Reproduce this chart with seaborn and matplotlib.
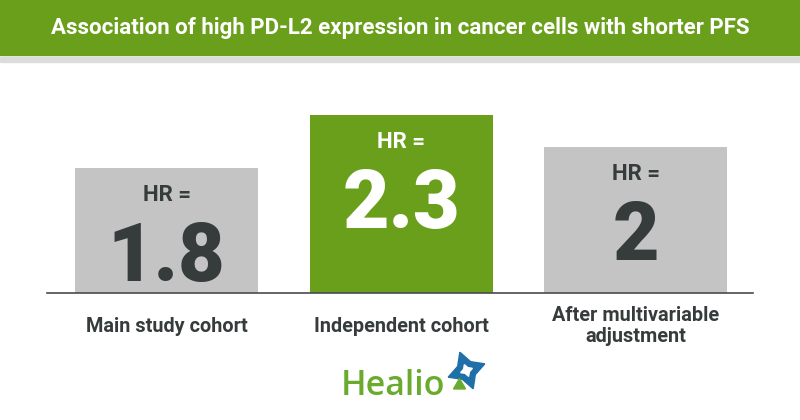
import matplotlib
matplotlib.use("Agg")
import matplotlib.pyplot as plt
import seaborn as sns
import pandas as pd
from matplotlib.patches import Rectangle
from matplotlib.lines import Line2D

# ---- data ----
categories = ["Main study cohort", "Independent cohort", "After multivariable\nadjustment"]
hr_values = [1.8, 2.3, 2.0]
value_labels = ["1.8", "2.3", "2"]
title = "Association of high PD-L2 expression in cancer cells with shorter PFS"

GREEN = "#6a9f1c"
GRAY = "#c4c4c4"
DARK = "#363b3b"
bar_colors = [GRAY, GREEN, GRAY]
text_colors = [DARK, "white", DARK]

sns.set_theme(style="white")
plt.rcParams["font.family"] = ["Roboto", "DejaVu Sans"]

fig = plt.figure(figsize=(8, 4.2), dpi=100)
W, H = 800, 420

# title band
fig.patches.append(Rectangle((0, 1 - 55 / H), 1, 55 / H, transform=fig.transFigure,
                             color=GREEN, zorder=0))
fig.patches.append(Rectangle((0, 1 - 62 / H), 1, 5 / H, transform=fig.transFigure,
                             color="#dcdcdc", zorder=0))
fig.text(0.5, 1 - 28 / H, title, ha="center", va="center", color="white",
         fontsize=16, fontweight="bold")

# axes
base_px, top_px = 293, 60
ax = fig.add_axes([47 / W, (H - base_px) / H, (753 - 47) / W, (base_px - top_px) / H])
df = pd.DataFrame({"cat": categories, "hr": hr_values})
sns.barplot(data=df, x="cat", y="hr", hue="cat", palette=bar_colors, legend=False,
            width=0.78, linewidth=0, saturation=1, ax=ax)

ymin = 0.62
ax.set_ylim(ymin, ymin + (base_px - top_px) / 106)
ax.set_xlim(-0.51, 2.5)
for s in ["top", "right", "left"]:
    ax.spines[s].set_visible(False)
ax.spines["bottom"].set_color("#4a4a4a")
ax.spines["bottom"].set_linewidth(1.2)
ax.set_yticks([])
ax.set_xlabel("")
ax.set_ylabel("")
ax.tick_params(axis="x", length=0, pad=24)
ax.set_xticks(range(len(categories)))
ax.set_xticklabels(categories, fontsize=14.3, fontweight="bold", color=DARK,
                   linespacing=1.15)
for lbl in ax.get_xticklabels():
    lbl.set_va("center")
    lbl.set_multialignment("center")

for i, (v, lab) in enumerate(zip(hr_values, value_labels)):
    ax.annotate("HR =", xy=(i, v), xytext=(0, -27), textcoords="offset pixels",
                ha="center", va="center", fontsize=16, fontweight="bold",
                color=text_colors[i])
    ax.annotate(lab, xy=(i, v), xytext=(0, -83), textcoords="offset pixels",
                ha="center", va="center_baseline", fontsize=58, fontweight="black",
                color=text_colors[i])

# Healio logo
fig.text(341 / W, 1 - 386 / H, "Healio", ha="left", va="center", fontsize=24.5,
         color="#6aab2e", fontweight="semibold", family=["Open Sans", "DejaVu Sans"])
fig.add_artist(Line2D([466 / W], [1 - 370 / H], transform=fig.transFigure,
                      marker=(4, 1, 20), markersize=28, color="#1f6fa8", linestyle=""))
fig.add_artist(Line2D([466 / W], [1 - 370 / H], transform=fig.transFigure,
                      marker=(4, 1, 20), markersize=9, color="white", linestyle=""))
fig.add_artist(Line2D([459 / W], [1 - 385 / H], transform=fig.transFigure,
                      marker=(3, 1, 0), markersize=10, color="#6aab2e", linestyle=""))

fig.savefig("out.png", dpi=100, facecolor="white")
